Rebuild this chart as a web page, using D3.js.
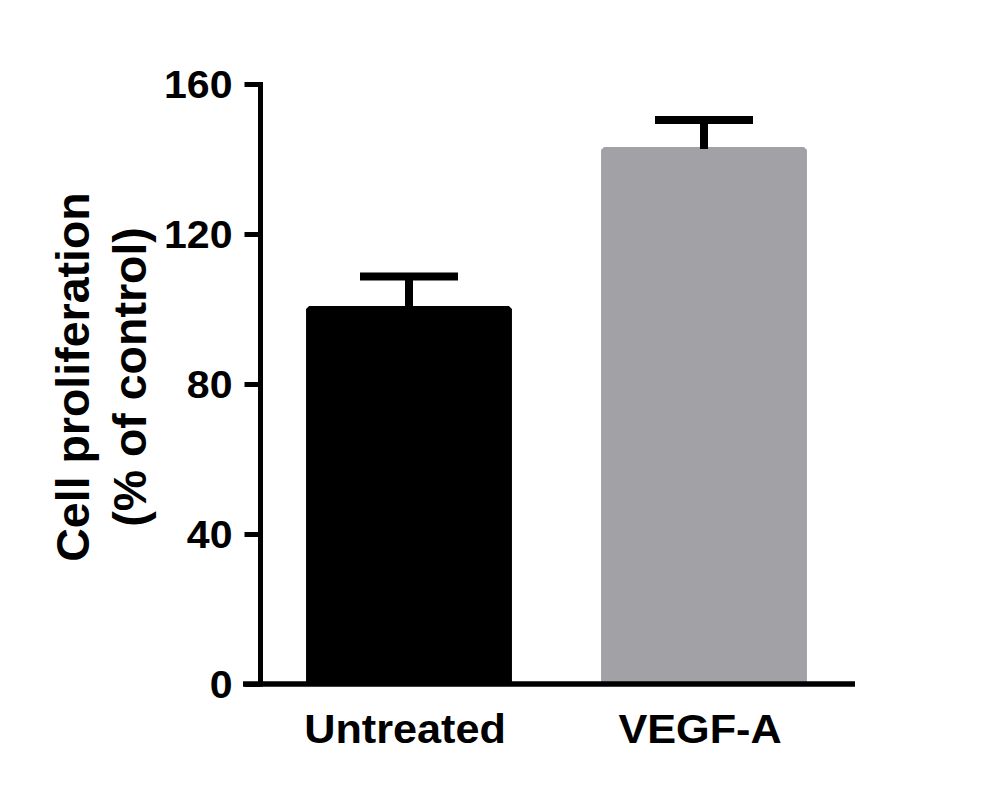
<!DOCTYPE html>
<html>
<head>
<meta charset="utf-8">
<script src="https://cdn.jsdelivr.net/npm/d3@7"></script>
<style>
  html, body { margin: 0; padding: 0; background: #fff; }
  svg { display: block; }
  text { font-family: "Liberation Sans", Arial, sans-serif; font-weight: bold; fill: #000; }
</style>
</head>
<body>
<svg id="chart" width="990" height="796"></svg>
<script>
const categories = ["Untreated", "VEGF-A"];
const means = [100.8, 143.2];
const errors = [7.9, 7.2];
const barColors = ["#000000", "#a2a1a6"];
const yTicks = [0, 40, 80, 120, 160];
const yTitleLines = ["Cell proliferation", "(% of control)"];

const svg = d3.select("#chart");

const y = d3.scaleLinear().domain([0, 160]).range([684, 84]);
const x = d3.scaleBand().domain(categories).range([261.5, 851.5])
  .paddingInner(0.302).paddingOuter(0.151);

const data = categories.map((c, i) => ({ c, m: means[i], e: errors[i], col: barColors[i] }));

// bars
svg.append("g").selectAll("path").data(data).join("path")
  .attr("fill", d => d.col)
  .attr("d", d => {
    const x0 = x(d.c), x1 = x(d.c) + x.bandwidth(), yt = y(d.m), yb = y(0), r = 3;
    return `M${x0},${yb} L${x0},${yt + r} L${x0 + r},${yt} L${x1 - r},${yt} L${x1},${yt + r} L${x1},${yb} Z`;
  });

// error bars
const eb = svg.append("g").attr("stroke", "#000").attr("stroke-width", 8);
eb.selectAll("line.stem").data(data).join("line").attr("class", "stem")
  .attr("x1", d => x(d.c) + x.bandwidth() / 2).attr("x2", d => x(d.c) + x.bandwidth() / 2)
  .attr("y1", d => y(d.m) + 2).attr("y2", d => y(d.m + d.e));
eb.selectAll("line.cap").data(data).join("line").attr("class", "cap")
  .attr("x1", d => x(d.c) + x.bandwidth() / 2 - 49).attr("x2", d => x(d.c) + x.bandwidth() / 2 + 49)
  .attr("y1", d => y(d.m + d.e)).attr("y2", d => y(d.m + d.e));

// y axis
const yAxis = d3.axisLeft(y).tickValues(yTicks).tickSize(16).tickPadding(12).tickSizeOuter(0);
const gy = svg.append("g").attr("transform", "translate(260.5,0)").call(yAxis);
gy.select(".domain").attr("stroke-width", 5).attr("d", `M0,${y(160) - 2}V${y(0) + 2.5}`);
gy.selectAll(".tick line").attr("stroke-width", 5);
gy.selectAll(".tick text").attr("font-size", 38).attr("font-family", null)
  .attr("x", 0).attr("dy", "0.36em")
  .attr("transform", "translate(-28,0) scale(1.08,1)");

// x axis line
svg.append("line").attr("x1", 243).attr("x2", 855).attr("y1", y(0)).attr("y2", y(0))
  .attr("stroke", "#000").attr("stroke-width", 5.5);

// category labels
svg.append("g").selectAll("text").data(categories).join("text")
  .attr("text-anchor", "middle").attr("font-size", 40)
  .attr("transform", d => `translate(${x(d) + x.bandwidth() / 2 - 4},743) scale(1.08,1)`)
  .text(d => d);

// y title
const title = svg.append("text").attr("text-anchor", "middle").attr("font-size", 46.5)
  .attr("transform", "translate(89,377) rotate(-90)");
title.selectAll("tspan").data(yTitleLines).join("tspan")
  .attr("x", 0).attr("dy", (d, i) => i === 0 ? 0 : 57).text(d => d);
</script>
</body>
</html>
